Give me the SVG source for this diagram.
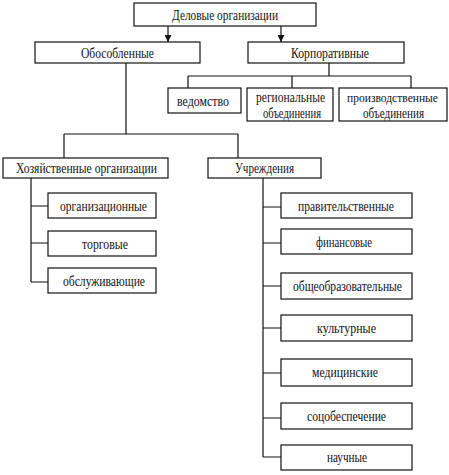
<svg xmlns="http://www.w3.org/2000/svg" width="449" height="475" viewBox="0 0 449 475">
<style>
rect{fill:#fff;stroke:#111;stroke-width:1.2}
text{font-family:"Liberation Serif","Times New Roman",serif;font-size:14px;fill:#111;text-anchor:middle}
#connectors path,#connectors line{stroke:#111;stroke-width:1.2;fill:none}
</style>
<defs>
<marker id="arr" viewBox="0 0 10 10" refX="10" refY="5" markerWidth="7" markerHeight="7" markerUnits="userSpaceOnUse" orient="auto">
<path d="M0,0 L10,5 L0,10 z" fill="#111"/>
</marker>
</defs>
<rect x="0" y="0" width="449" height="475" style="fill:#fff;stroke:none"/>
<g id="connectors">
<line x1="168" y1="26" x2="168" y2="42" marker-end="url(#arr)"/>
<line x1="281" y1="26" x2="281" y2="42" marker-end="url(#arr)"/>
<path d="M329,63 V76 M188,76 H411 M188,76 V88 M292,76 V88 M411,76 V88"/>
<path d="M126,63 V134 M64,134 H238 M64,134 V158 M238,134 V158"/>
<path d="M31,178 V282 M31,206 H48 M31,243 H48 M31,282 H48"/>
<path d="M263,178 V457 M263,207 H281 M263,243 H281 M263,286 H281 M263,328 H281 M263,373 H281 M263,418 H281 M263,457 H281"/>
</g>
<g id="n-root"><rect x="134" y="3" width="182" height="23"/><text x="225" y="19.5" textLength="106" lengthAdjust="spacingAndGlyphs">Деловые организации</text></g>
<g id="n-obos"><rect x="35" y="42" width="165" height="21"/><text x="117.5" y="57.5" textLength="73" lengthAdjust="spacingAndGlyphs">Обособленные</text></g>
<g id="n-korp"><rect x="248" y="42" width="156" height="21"/><text x="330" y="57.5" textLength="78" lengthAdjust="spacingAndGlyphs">Корпоративные</text></g>
<g id="n-ved"><rect x="168" y="88" width="73" height="25"/><text x="203" y="105.5" textLength="52" lengthAdjust="spacingAndGlyphs">ведомство</text></g>
<g id="n-reg"><rect x="247" y="88" width="86" height="33"/><text x="290.5" y="102" textLength="69" lengthAdjust="spacingAndGlyphs">региональные</text><text x="292" y="118" textLength="58" lengthAdjust="spacingAndGlyphs">объединения</text></g>
<g id="n-proizv"><rect x="339" y="88" width="108" height="33"/><text x="392.5" y="102" style="font-size:12.5px" textLength="91" lengthAdjust="spacingAndGlyphs">производственные</text><text x="393.5" y="118" textLength="61" lengthAdjust="spacingAndGlyphs">объединения</text></g>
<g id="n-hoz"><rect x="3" y="158" width="165" height="20"/><text x="86.5" y="172.5" textLength="141" lengthAdjust="spacingAndGlyphs">Хозяйственные организации</text></g>
<g id="n-uchr"><rect x="208" y="158" width="113" height="20"/><text x="264.5" y="172.5" textLength="59" lengthAdjust="spacingAndGlyphs">Учреждения</text></g>
<g id="n-org"><rect x="48" y="193" width="108" height="25"/><text x="103.5" y="210.5" textLength="87" lengthAdjust="spacingAndGlyphs">организационные</text></g>
<g id="n-torg"><rect x="48" y="231" width="108" height="25"/><text x="105" y="248.5" textLength="46" lengthAdjust="spacingAndGlyphs">торговые</text></g>
<g id="n-obsl"><rect x="48" y="268" width="108" height="25"/><text x="104" y="285.5" textLength="82" lengthAdjust="spacingAndGlyphs">обслуживающие</text></g>
<g id="n-prav"><rect x="281" y="193" width="131" height="25"/><text x="346" y="210.5" textLength="96" lengthAdjust="spacingAndGlyphs">правительственные</text></g>
<g id="n-fin"><rect x="281" y="229" width="131" height="25"/><text x="344" y="246.5" textLength="56" lengthAdjust="spacingAndGlyphs">финансовые</text></g>
<g id="n-obsh"><rect x="281" y="273" width="131" height="26"/><text x="347.5" y="290.5" textLength="109" lengthAdjust="spacingAndGlyphs">общеобразовательные</text></g>
<g id="n-kult"><rect x="281" y="315" width="131" height="26"/><text x="346.5" y="332.5" textLength="59" lengthAdjust="spacingAndGlyphs">культурные</text></g>
<g id="n-med"><rect x="281" y="359" width="131" height="27"/><text x="345" y="377" textLength="66" lengthAdjust="spacingAndGlyphs">медицинские</text></g>
<g id="n-soc"><rect x="281" y="403" width="131" height="26"/><text x="346.5" y="420.5" textLength="79" lengthAdjust="spacingAndGlyphs">соцобеспечение</text></g>
<g id="n-nauch"><rect x="281" y="445" width="131" height="25"/><text x="347" y="462" textLength="40" lengthAdjust="spacingAndGlyphs">научные</text></g>
</svg>
